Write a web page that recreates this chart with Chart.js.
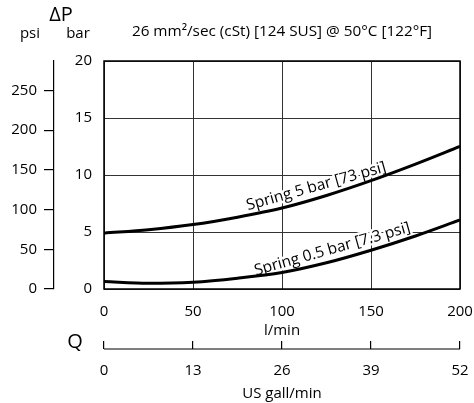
<!DOCTYPE html>
<html>
<head>
<meta charset="utf-8">
<script src="https://cdn.jsdelivr.net/npm/chart.js@4/dist/chart.umd.min.js"></script>
<style>
  html, body { margin: 0; padding: 0; background: #fff; }
  #wrap { width: 474px; height: 403px; }
</style>
</head>
<body>
<div id="wrap"><canvas id="c" width="474" height="403"></canvas></div>
<script>
// ---- data ----
const flowLpm   = [0, 25, 50, 75, 100, 125, 150, 175, 200];           // l/min
const spring5   = [4.9, 5.2, 5.65, 6.3, 7.1, 8.2, 9.5, 10.95, 12.5];   // bar
const spring05  = [0.65, 0.5, 0.6, 0.95, 1.45, 2.3, 3.4, 4.65, 6.05];  // bar
const seriesLabels = ['Spring 5 bar [73 psi]', 'Spring 0.5 bar [7.3 psi]'];
const labelAt   = [121, 130];                 // l/min where each curve label sits
const barTicks  = [0, 5, 10, 15, 20];
const psiTicks  = [0, 50, 100, 150, 200, 250];
const lpmTicks  = [0, 50, 100, 150, 200];
const gpmTicks  = [0, 13, 26, 39, 52];
const barMax = 20, psiMax = 287, lpmMax = 200, gpmMax = 52;
const titleText = '26 mm²/sec (cSt) [124 SUS] @ 50°C [122°F]';

const FONT = "'Open Sans', 'Noto Sans', sans-serif";
Chart.defaults.font.family = FONT;
Chart.defaults.color = '#000';

const toPts = (xs, ys) => xs.map((x, i) => ({x, y: ys[i]}));

function drawCurveLabels(chart, halo) {
  const {ctx, scales} = chart;
  const xs = scales.x, ys = scales.y;
  [spring5, spring05].forEach((ser, k) => {
    const v = labelAt[k];
    const i = flowLpm.findIndex(f => f > v) - 1;
    const x0 = flowLpm[i], x1 = flowLpm[i + 1];
    const t = (v - x0) / (x1 - x0);
    const yv = ser[i] + t * (ser[i + 1] - ser[i]);
    const px0 = xs.getPixelForValue(x0), px1 = xs.getPixelForValue(x1);
    const py0 = ys.getPixelForValue(ser[i]), py1 = ys.getPixelForValue(ser[i + 1]);
    const ang = Math.atan2(py1 - py0, px1 - px0);
    ctx.save();
    ctx.translate(xs.getPixelForValue(v), ys.getPixelForValue(yv));
    ctx.rotate(ang);
    ctx.font = '15.5px ' + FONT;
    ctx.textAlign = 'center';
    ctx.textBaseline = 'alphabetic';
    if (halo) {
      ctx.strokeStyle = '#fff';
      ctx.lineWidth = 5;
      ctx.lineJoin = 'round';
      ctx.strokeText(seriesLabels[k], 0, -7);
    } else {
      ctx.fillStyle = '#000';
      ctx.fillText(seriesLabels[k], 0, -7);
    }
    ctx.restore();
  });
}

const decor = {
  id: 'decor',
  beforeDatasetsDraw(chart) {
    drawCurveLabels(chart, true);
  },
  afterDraw(chart) {
    const {ctx, chartArea: a, scales} = chart;
    ctx.save();
    // plot frame
    ctx.strokeStyle = '#000';
    ctx.lineWidth = 1.5;
    ctx.strokeRect(a.left, a.top, a.right - a.left, a.bottom - a.top);
    // Q axis baseline (at the tick ends)
    const q = scales.gpm;
    ctx.lineWidth = 1.2;
    ctx.beginPath();
    ctx.moveTo(q.left, q.top + 8);
    ctx.lineTo(q.right, q.top + 8);
    ctx.stroke();
    // texts
    ctx.fillStyle = '#000';
    ctx.textAlign = 'center';
    ctx.textBaseline = 'alphabetic';
    ctx.font = '15.3px ' + FONT;
    ctx.fillText(titleText, (a.left + a.right) / 2, 36);
    ctx.font = '15px ' + FONT;
    ctx.fillText('psi', 30, 38);
    ctx.fillText('bar', 78, 38);
    ctx.font = '20px ' + FONT;
    ctx.fillText('ΔP', 61, 21);
    ctx.fillText('Q', 75, 348);
    ctx.restore();
    drawCurveLabels(chart, false);
  }
};

const noSidePad = s => { s.paddingLeft = 0; s.paddingRight = 0; };

new Chart(document.getElementById('c'), {
  type: 'line',
  data: {
    datasets: [
      { label: seriesLabels[0], data: toPts(flowLpm, spring5), xAxisID: 'x', yAxisID: 'y',
        borderColor: '#000', borderWidth: 3, pointRadius: 0, cubicInterpolationMode: 'monotone', fill: false },
      { label: seriesLabels[1], data: toPts(flowLpm, spring05), xAxisID: 'x', yAxisID: 'y',
        borderColor: '#000', borderWidth: 3, pointRadius: 0, cubicInterpolationMode: 'monotone', fill: false }
    ]
  },
  options: {
    responsive: false,
    animation: false,
    events: [],
    layout: { padding: { top: 61, right: 14, left: 0, bottom: 0 } },
    plugins: { legend: { display: false }, tooltip: { enabled: false }, title: { display: false } },
    scales: {
      x: {
        type: 'linear', position: 'bottom', min: 0, max: lpmMax, weight: 0,
        afterBuildTicks: s => { s.ticks = lpmTicks.map(v => ({value: v})); },
        afterFit: s => { s.height = 52; noSidePad(s); },
        grid: { color: '#333', lineWidth: 1, drawTicks: false },
        border: { display: false },
        ticks: { font: { size: 15 }, padding: 14, maxRotation: 0 },
        title: { display: true, text: 'l/min', font: { size: 15 }, padding: { top: 0, bottom: 1 } }
      },
      gpm: {
        type: 'linear', position: 'bottom', min: 0, max: gpmMax, weight: 1,
        afterBuildTicks: s => { s.ticks = gpmTicks.map(v => ({value: v})); },
        afterFit: s => { s.height = 62; noSidePad(s); },
        grid: { drawOnChartArea: false, drawTicks: true, tickLength: 8, color: '#000', lineWidth: 1.2 },
        border: { display: false },
        ticks: { font: { size: 15 }, padding: 13, maxRotation: 0 },
        title: { display: true, text: 'US gall/min', font: { size: 15 }, padding: { top: 0, bottom: 0 } }
      },
      y: {
        type: 'linear', position: 'left', min: 0, max: barMax, weight: 0,
        afterBuildTicks: s => { s.ticks = barTicks.map(v => ({value: v})); },
        afterFit: s => { s.width = 50; },
        grid: { color: '#333', lineWidth: 1, drawTicks: false },
        border: { display: false },
        ticks: { font: { size: 15 }, padding: 12 }
      },
      psi: {
        type: 'linear', position: 'left', min: 0, max: psiMax, weight: 1,
        afterBuildTicks: s => { s.ticks = psiTicks.map(v => ({value: v})); },
        afterFit: s => { s.width = 54; },
        grid: { drawOnChartArea: false, drawTicks: true, tickLength: 10, color: '#000', lineWidth: 1.2 },
        border: { display: true, color: '#000', width: 1.2 },
        ticks: { font: { size: 15 }, padding: 7 }
      }
    }
  },
  plugins: [decor]
});
</script>
</body>
</html>
